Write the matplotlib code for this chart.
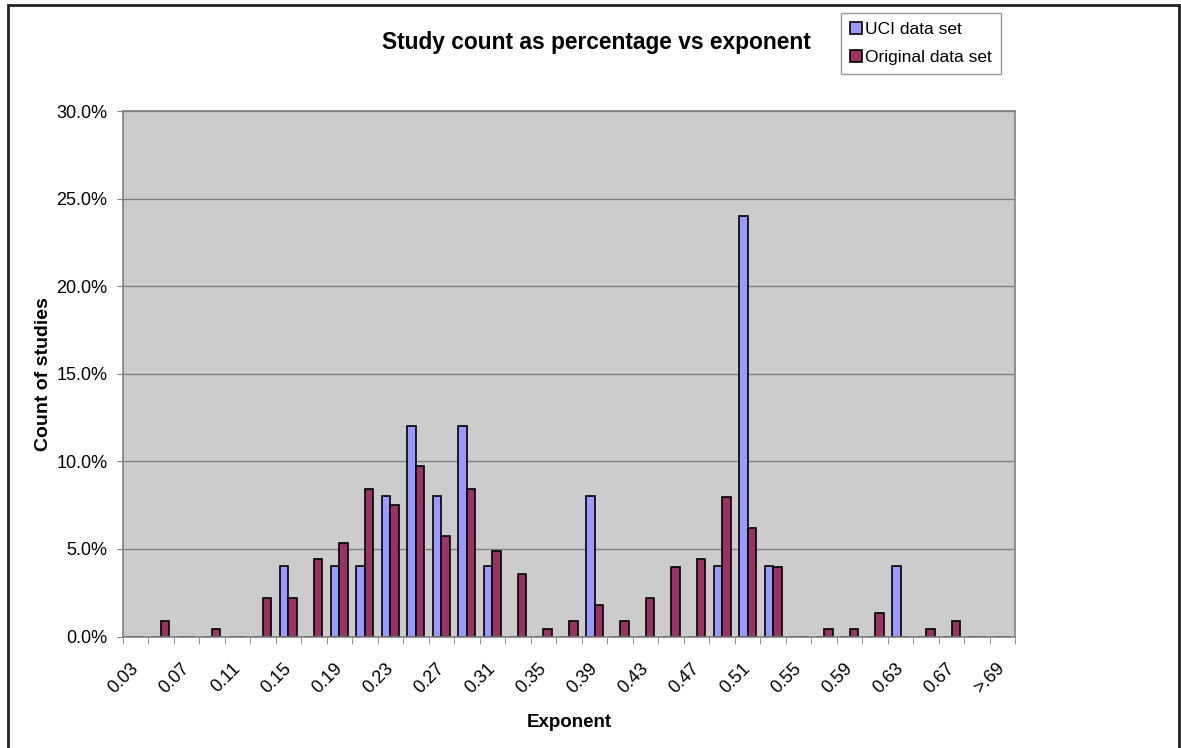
import numpy as np
import matplotlib.pyplot as plt
from matplotlib.patches import Rectangle

plt.rcParams['font.family'] = ['Liberation Sans', 'DejaVu Sans']

# exponent bins: 0.03 .. 0.69 in steps of 0.02, plus an overflow bin
bins = ['0.03', '0.05', '0.07', '0.09', '0.11', '0.13', '0.15', '0.17', '0.19',
        '0.21', '0.23', '0.25', '0.27', '0.29', '0.31', '0.33', '0.35', '0.37',
        '0.39', '0.41', '0.43', '0.45', '0.47', '0.49', '0.51', '0.53', '0.55',
        '0.57', '0.59', '0.61', '0.63', '0.65', '0.67', '0.69', '>.69']

# share of studies per bin, in percent
uci = [0, 0, 0, 0, 0, 0, 4, 0, 4, 4, 8, 12, 8, 12, 4, 0, 0, 0,
       8, 0, 0, 0, 0, 4, 24, 4, 0, 0, 0, 0, 4, 0, 0, 0, 0]
original = [0, 0.88, 0, 0.44, 0, 2.21, 2.21, 4.42, 5.31, 8.41, 7.52, 9.73,
            5.75, 8.41, 4.87, 3.54, 0.44, 0.88, 1.77, 0.88, 2.21, 3.98, 4.42,
            7.96, 6.19, 3.98, 0, 0.44, 0.44, 1.33, 0, 0.44, 0.88, 0, 0]

W, H = 1181, 748
fig = plt.figure(figsize=(W / 100, H / 100), dpi=100)
ax = fig.add_axes([122.7 / W, 1 - 636.5 / H, (1015.3 - 122.7) / W, (636.5 - 111) / H])

x = np.arange(len(bins))
bw = 1 / 3
ax.set_facecolor('#cccccc')
ax.set_axisbelow(True)
ax.yaxis.grid(True, color='#808080', lw=1)

b1 = ax.bar(x - bw / 2, uci, bw, color='#9999ff', edgecolor='black', lw=1.2,
            label='UCI data set')
b2 = ax.bar(x + bw / 2, original, bw, color='#993366', edgecolor='black', lw=1.2,
            label='Original data set')

ax.set_xlim(-0.5, len(bins) - 0.5)
ax.set_ylim(0, 30)
ax.set_yticks(np.arange(0, 31, 5))
ax.set_yticklabels(['%.1f%%' % v for v in np.arange(0, 31, 5)], fontsize=13)
ax.tick_params(axis='y', length=4, color='#808080', pad=7)

# labels on every other bin, tick marks on bin edges
ax.set_xticks(x[::2])
ax.set_xticklabels(bins[::2], rotation=45, ha='right', va='center',
                   rotation_mode='anchor', fontsize=13)
ax.tick_params(axis='x', which='major', length=0, pad=21)
ax.set_xticks(np.arange(-0.5, len(bins)), minor=True)
ax.tick_params(axis='x', which='minor', length=5, color='#808080')

for s in ax.spines.values():
    s.set_color('#808080')
    s.set_linewidth(1.2)

ax.set_ylabel('Count of studies', fontsize=14, fontweight='bold', labelpad=3)
ax.set_xlabel('Exponent', fontsize=13.5, fontweight='bold', labelpad=12)

fig.text(596 / W, 1 - 43 / H, 'Study count as percentage vs exponent',
         ha='center', va='center', fontsize=16.4, fontweight='bold')

leg = fig.legend(handles=[b1, b2], loc='upper left',
                 bbox_to_anchor=(841 / W, 1 - 13 / H), fontsize=12.5,
                 handlelength=0.7, handleheight=0.7, handletextpad=0.2,
                 borderpad=0.5, labelspacing=0.75, fancybox=False,
                 borderaxespad=0)
leg.get_frame().set_edgecolor('#808080')
leg.get_frame().set_linewidth(1)

# outer chart border
fig.patches.append(Rectangle((8 / W, -0.01), (1179 - 8) / W, 1.01 - 5 / H,
                             transform=fig.transFigure, fill=False,
                             edgecolor='#222222', lw=2))

fig.savefig('out.png', dpi=100)
